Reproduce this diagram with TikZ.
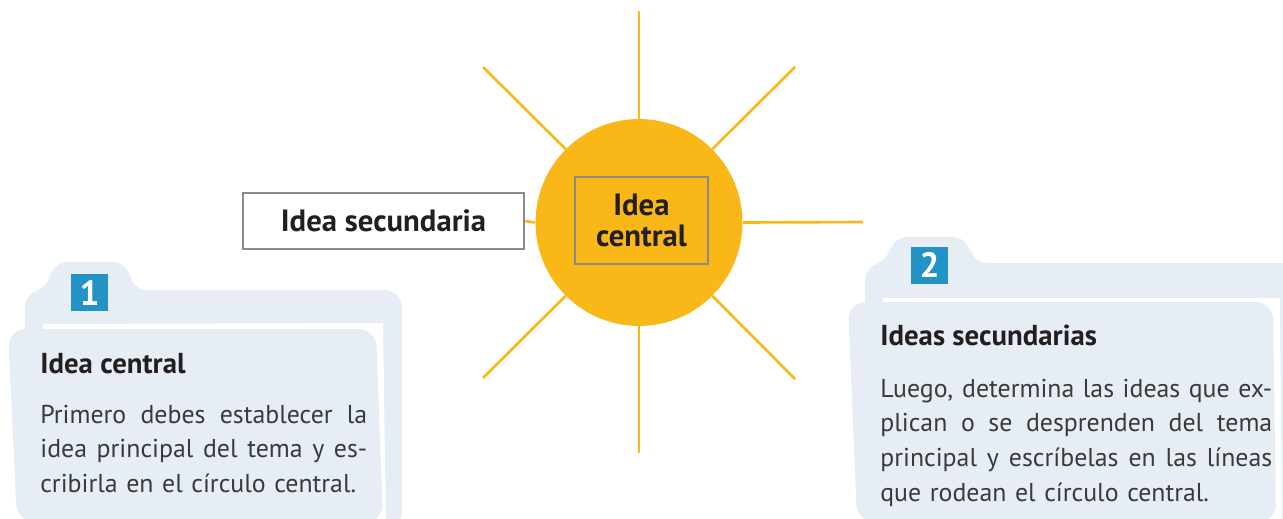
\documentclass[tikz,border=0pt]{standalone}
\usepackage{fontspec}
\setmainfont{PT Sans}
\usetikzlibrary{positioning}
\definecolor{SunYellow}{HTML}{F9B817}
\definecolor{PanelBlue}{HTML}{E6EDF4}
\definecolor{BadgeBlue}{HTML}{2393C5}
\definecolor{BoxGray}{HTML}{8A8A8D}
\definecolor{InkDark}{HTML}{231F20}
\definecolor{InkBody}{HTML}{3A3A3A}
% one justified line of a card text
\newcommand{\jline}[1]{\makebox[\hsize][s]{\spaceskip=0pt\xspaceskip=0pt #1}\\}

\begin{document}
\begin{tikzpicture}[x=0.02cm,y=-0.02cm]
  \tikzstyle{sun}=[circle,fill=SunYellow,minimum size=4.14cm,inner sep=0pt]
  \tikzstyle{ray}=[draw=SunYellow,line width=1.5pt]
  \tikzstyle{labelbox}=[draw=BoxGray,line width=1.3pt,text=InkDark,
    align=center,font=\fontsize{17.5}{17.6}\selectfont\bfseries]
  \tikzstyle{badge}=[fill=BadgeBlue,text=white,minimum size=0.74cm,inner sep=0pt,
    font=\fontsize{20}{20}\selectfont\bfseries]
  \tikzstyle{paneltitle}=[anchor=base west,inner sep=0pt,text=InkDark,
    font=\fontsize{16.4}{18}\selectfont\bfseries]
  \tikzstyle{panelbody}=[anchor=base west,inner sep=0pt,text=InkBody,align=left,
    font=\fontsize{14.7}{19.8}\selectfont]
  \useasboundingbox (0,0) rectangle (1283,518);
  % left card: folder, white sheet, front card
  \fill[PanelBlue,rounded corners=10] (25,530) -- (25,290) -- (50,290) -- (50,262)
    -- (130,262) -- (130,290) -- (402,290) -- (402,530) -- cycle;
  \fill[white] (43,324) -- (383,323) -- (386,530) -- (43,530) -- cycle;
  \fill[PanelBlue,rounded corners=10] (8,329) -- (376,329) -- (383,522) -- (17,522) -- cycle;
  % right card
  \fill[PanelBlue,rounded corners=10] (865,530) -- (865,263) -- (890,263) -- (890,237)
    -- (970,237) -- (970,263) -- (1300,263) -- (1300,530) -- cycle;
  \fill[white] (883,298) -- (1280,298) -- (1282,530) -- (883,530) -- cycle;
  \fill[PanelBlue,rounded corners=10] (848,302) -- (1273,302) -- (1276,522) -- (857,522) -- cycle;
  % sun with rays
  \node[sun] (sun) at (639,222.5) {};
  \node[labelbox,minimum width=2.66cm,minimum height=1.74cm] (central) at (641.5,220.5) {Idea\\central};
  \node[labelbox,fill=white,minimum width=5.62cm,minimum height=1.12cm] (sec) at (383.5,221) {Idea secundaria};
  \coordinate (rN) at (639,11);
  \coordinate (rNE) at (795,67);
  \coordinate (rE) at (863,222);
  \coordinate (rSE) at (795,379);
  \coordinate (rS) at (639,453);
  \coordinate (rSW) at (483,378);
  \coordinate (rNW) at (483,67);
  \draw[ray] (sun.north) -- (rN);
  \draw[ray] (sun.north east) -- (rNE);
  \draw[ray] (sun.east) -- (rE);
  \draw[ray] (sun.south east) -- (rSE);
  \draw[ray] (sun.south) -- (rS);
  \draw[ray] (sun.south west) -- (rSW);
  \draw[ray] (sun.north west) -- (rNW);
  \draw[ray] (sec.east) -- (sun.west);
  % card texts
  \node[badge] (n1) at (89.5,292.5) {1};
  \node[paneltitle] (t1) at (40,373) {Idea central};
  \node[panelbody,text width=6.54cm] (b1) at (40,423) {\jline{Primero debes establecer la}
    \jline{idea principal del tema y es-}\mbox{cribirla en el círculo central.}};
  \node[badge] (n2) at (929.5,265) {2};
  \node[paneltitle] (t2) at (880,345) {Ideas secundarias};
  \node[panelbody,text width=7.84cm] (b2) at (880,397) {\jline{Luego, determina las ideas que ex-}
    \jline{plican o se desprenden del tema}\jline{principal y escríbelas en las líneas}
    \mbox{que rodean el círculo central.}};
\end{tikzpicture}
\end{document}
